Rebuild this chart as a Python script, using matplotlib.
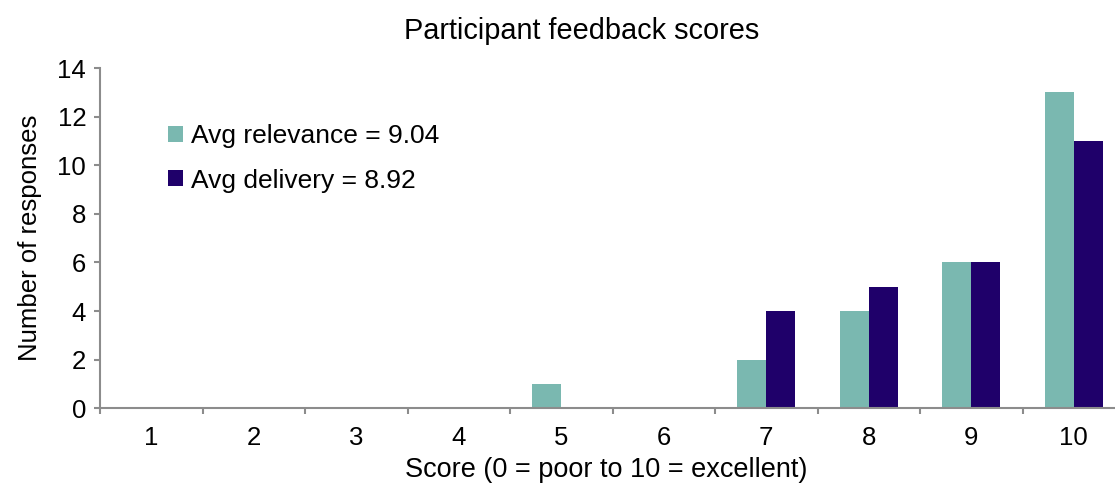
import numpy as np
import matplotlib.pyplot as plt

plt.rcParams['font.family'] = ['Liberation Sans', 'DejaVu Sans']

scores = [1, 2, 3, 4, 5, 6, 7, 8, 9, 10]
relevance = [0, 0, 0, 0, 1, 0, 2, 4, 6, 13]
delivery = [0, 0, 0, 0, 0, 0, 4, 5, 6, 11]
labels = ["Avg relevance = 9.04", "Avg delivery = 8.92"]

teal = "#7ab8b0"
navy = "#1f006a"
grey = "#8c8c8c"

fig, ax = plt.subplots(figsize=(11.15, 4.86), dpi=100)
# plot area runs slightly past the right edge, as in the original
fig.subplots_adjust(left=0.0897, right=1.009, top=0.86, bottom=0.16)

x = np.arange(len(scores))
w = 0.283
ax.bar(x - w / 2, relevance, w, color=teal, label=labels[0])
ax.bar(x + w / 2, delivery, w, color=navy, label=labels[1])

ax.set_xlim(-0.5, len(scores) - 0.5)
ax.set_ylim(0, 14)
ax.set_yticks(range(0, 15, 2))
ax.set_xticks(x)
ax.set_xticklabels([str(s) for s in scores])
ax.set_xticks(np.arange(-0.5, len(scores), 1), minor=True)
ax.tick_params(axis='x', which='major', length=0, pad=13, labelsize=18.5)
ax.tick_params(axis='x', which='minor', length=4, color=grey, width=1.5)
ax.tick_params(axis='y', length=4, color=grey, width=1.5, labelsize=18.5, pad=6)

for s in ['top', 'right']:
    ax.spines[s].set_visible(False)
for s in ['left', 'bottom']:
    ax.spines[s].set_color(grey)
    ax.spines[s].set_linewidth(1.5)

ax.set_title("Participant feedback scores", fontsize=20.8, pad=21, x=0.47)
ax.set_xlabel("Score (0 = poor to 10 = excellent)", fontsize=19.5, labelpad=5, x=0.494)
ax.set_ylabel("Number of responses", fontsize=18.5, labelpad=11)

ax.legend(loc='upper left', bbox_to_anchor=(0.0435, 0.905), frameon=False,
          fontsize=19, handlelength=0.55, handleheight=0.55, handletextpad=0.3,
          labelspacing=0.78)

fig.savefig("out.png", dpi=100)
